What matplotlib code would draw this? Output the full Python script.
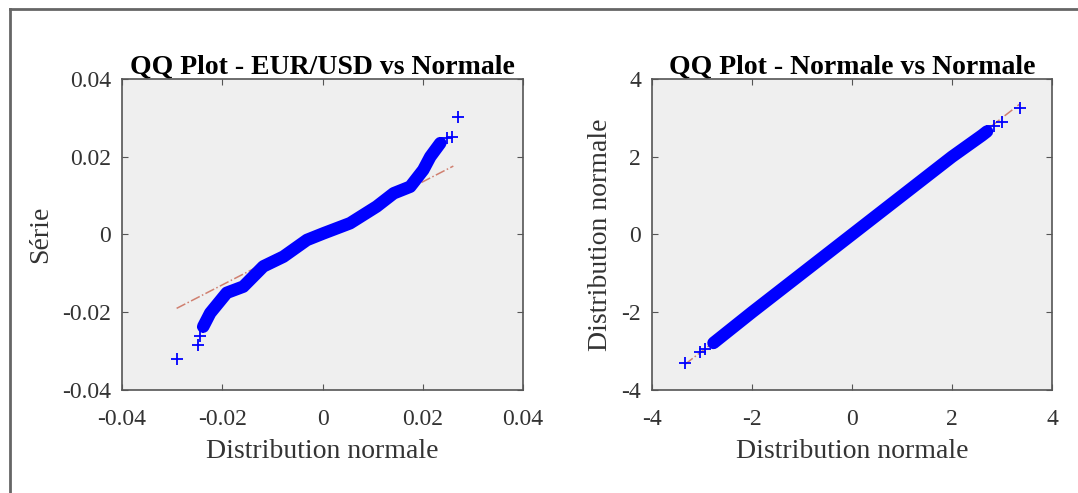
import matplotlib.pyplot as plt
from matplotlib.lines import Line2D

plt.rcParams['font.family'] = ['Liberation Serif', 'DejaVu Serif']

# left QQ plot: theoretical quantiles (x) vs EUR/USD returns (y)
eur_x = [-0.0291, -0.0248, -0.0244, -0.0238, -0.0224, -0.0191, -0.0158, -0.0118,
         -0.0078, -0.0031, 0.0002, 0.0055, 0.0108, 0.0142, 0.0175, 0.0201,
         0.0215, 0.0235, 0.0248, 0.0258, 0.0270]
eur_y = [-0.0320, -0.0284, -0.0262, -0.0237, -0.0202, -0.0150, -0.0134, -0.0082,
         -0.0057, -0.0014, 0.0003, 0.0029, 0.0072, 0.0106, 0.0123, 0.0166,
         0.0200, 0.0235, 0.0248, 0.0250, 0.0303]
eur_ref_x = [-0.0291, 0.0261]
eur_ref_y = [-0.0190, 0.0176]

# right QQ plot: normal sample vs normal quantiles
norm_x = [-3.34, -3.04, -2.94, -2.77, -2.0, -1.0, 0.0, 1.0, 2.0, 2.60, 2.70, 2.83, 2.99, 3.36]
norm_y = [-3.31, -3.01, -2.95, -2.79, -2.0, -1.0, 0.0, 1.0, 2.0, 2.55, 2.65, 2.78, 2.90, 3.25]
norm_ref_x = [-3.34, 3.36]
norm_ref_y = [-3.34, 3.36]

left_ticks = [-0.04, -0.02, 0, 0.02, 0.04]
left_labels = ['-0.04', '-0.02', '0', '0.02', '0.04']
right_ticks = [-4, -2, 0, 2, 4]
right_labels = ['-4', '-2', '0', '2', '4']

W, H = 1078, 493
fig = plt.figure(figsize=(W / 100, H / 100), dpi=100)

# frame lines of the screenshot (top and left only)
fig.add_artist(Line2D([10 / W, 1], [1 - 9 / H, 1 - 9 / H], color='#666666', lw=2))
fig.add_artist(Line2D([10 / W, 10 / W], [0, 1 - 9 / H], color='#666666', lw=2))


def qq_axes(rect, x, y, rx, ry, ticks, labels, title, ylabel, band, cut):
    ax = fig.add_axes(rect)
    ax.set_facecolor('#efefef')
    ax.plot(rx, ry, linestyle='-.', color='#d08070', lw=1.1, zorder=1)
    # the dense sample shows as a solid band of '+' markers
    ax.plot(x[cut[0]:cut[1]], y[cut[0]:cut[1]], '-', color='#0000ff', lw=band,
            solid_capstyle='round', solid_joinstyle='round', zorder=2)
    ax.plot(x, y, '+', color='#0000ff', ms=9, mew=1.3, zorder=3)
    ax.set_xlim(ticks[0], ticks[-1])
    ax.set_ylim(ticks[0], ticks[-1])
    ax.set_xticks(ticks)
    ax.set_xticklabels(labels)
    ax.set_yticks(ticks)
    ax.set_yticklabels(labels)
    ax.tick_params(direction='in', top=True, right=True, length=4, width=0.8,
                   colors='#555555', labelcolor='#333333', labelsize=17)
    ax.tick_params(axis='x', pad=14)
    ax.tick_params(axis='y', pad=8)
    for s in ax.spines.values():
        s.set_color('#555555')
        s.set_linewidth(1.2)
    ax.set_title(title, fontsize=20, fontweight='bold', pad=4)
    ax.set_xlabel('Distribution normale', fontsize=20, color='#333333', labelpad=6)
    ax.set_ylabel(ylabel, fontsize=20, color='#333333', labelpad=6)
    return ax


qq_axes([122 / W, 1 - 390 / H, 401 / W, 311 / H], eur_x, eur_y, eur_ref_x, eur_ref_y,
        left_ticks, left_labels, 'QQ Plot - EUR/USD vs Normale', 'Série', 9, (3, -3))
qq_axes([652 / W, 1 - 390 / H, 400 / W, 311 / H], norm_x, norm_y, norm_ref_x, norm_ref_y,
        right_ticks, right_labels, 'QQ Plot - Normale vs Normale', 'Distribution normale', 9, (3, -3))

fig.savefig('out.png', dpi=100)
